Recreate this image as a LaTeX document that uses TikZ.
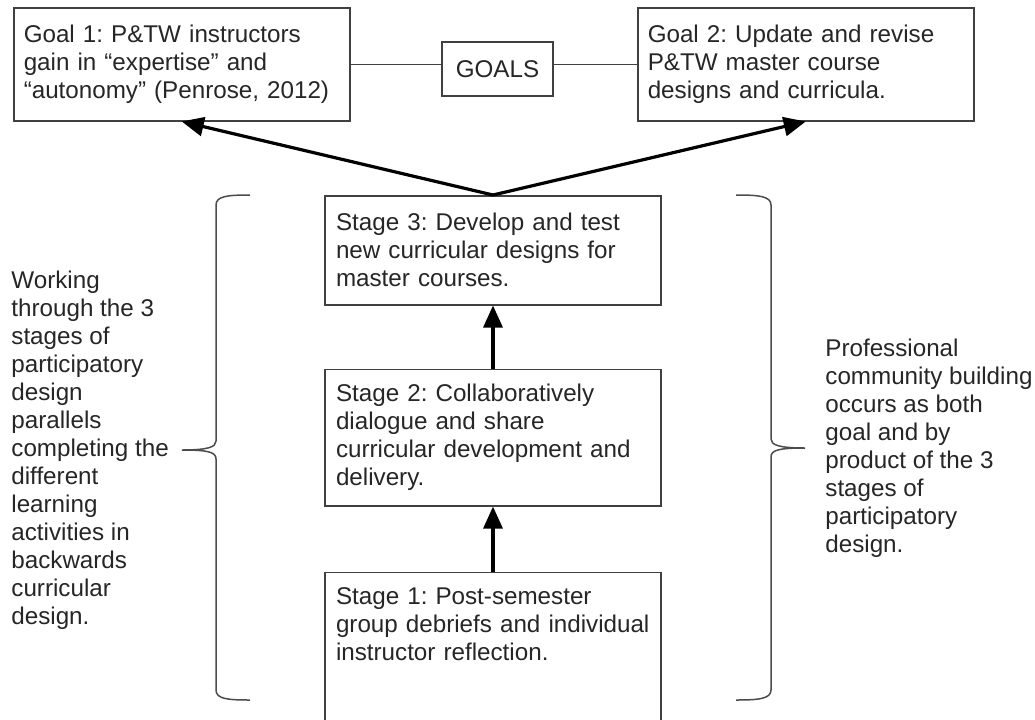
\documentclass[tikz,border=0pt]{standalone}
\usepackage{fontspec}
\setmainfont{Liberation Sans}
\usetikzlibrary{arrows.meta, positioning}
\frenchspacing

\begin{document}
\begin{tikzpicture}[
  x=0.5pt, y=-0.5pt,
  font=\fontsize{12.1}{14}\selectfont,
  goalbox/.style  = {draw=black!75, line width=0.75pt, text=black!85,
                     text width=158pt, inner xsep=5pt, inner ysep=0pt,
                     align=left, minimum height=56.5pt, anchor=north west},
  stagebox/.style = {draw=black!75, line width=0.75pt, text=black!85,
                     text width=157pt, inner xsep=5.5pt, inner ysep=7.5pt,
                     align=left},
  tagbox/.style   = {draw=black!75, line width=0.75pt, text=black!85,
                     minimum width=55.5pt, minimum height=27pt, inner sep=0pt},
  note/.style     = {text=black!85, align=left, anchor=west, inner sep=0pt},
  link/.style     = {draw=black!75, line width=0.75pt},
  curly/.style    = {draw=black!70, line width=0.75pt},
  arr/.style      = {-{Triangle[length=11pt, width=9.5pt]}, line width=1.6pt, black}
]
\useasboundingbox[fill=white] (0,0) rectangle (1035,719);

\node[goalbox] (goal1) at (13,7)
  {Goal 1: P\&TW instructors\\gain in “expertise” and\\“autonomy” (Penrose, 2012)};
\node[goalbox] (goal2) at (637,7)
  {Goal 2: Update and revise\\P\&TW master course\\designs and curricula.};
\node[tagbox] (goals) at (497.5,69) {GOALS};
\draw[link] (goal1.east) -- (goal1.east -| goals.west);
\draw[link] (goals.east |- goal2.west) -- (goal2.west);

\node[stagebox, anchor=north, minimum height=54.5pt] (stage3) at (493,195)
  {Stage 3: Develop and test\\new curricular designs for\\master courses.};
\node[stagebox, minimum height=68pt, below=31.5pt of stage3] (stage2)
  {Stage 2: Collaboratively\\dialogue and share\\curricular development and\\delivery.};
\node[stagebox, below=32.5pt of stage2] (stage1)
  {Stage 1: Post-semester\\group debriefs and individual\\instructor reflection.\rule[-50pt]{0pt}{0pt}};

\draw[arr] (stage3.north) -- (goal1.south);
\draw[arr] (stage3.north) -- (goal2.south);
\draw[arr] (stage2.north) -- (stage3.south);
\draw[arr] (stage1.north) -- (stage2.south);

\draw[curly] (250,195) .. controls (228,195) and (216,196) .. (216,205)
  -- (216,441) .. controls (216,447) and (208,450) .. (182,450)
  .. controls (208,450) and (216,452) .. (216,459)
  -- (216,690) .. controls (216,699) and (228,700) .. (250,700);
\draw[curly] (736,195) .. controls (758,195) and (771,196) .. (771,205)
  -- (771,439) .. controls (771,445) and (779,448) .. (805,448)
  .. controls (779,448) and (771,450) .. (771,457)
  -- (771,690) .. controls (771,699) and (758,700) .. (736,700);

\node[note] (leftnote) at (11,450)
  {Working\\through the 3\\stages of\\participatory\\design\\parallels\\completing the\\different\\learning\\activities in\\backwards\\curricular\\design.};
\node[note] (rightnote) at (825,448)
  {Professional\\community building\\occurs as both\\goal and by\\product of the 3\\stages of\\participatory\\design.};
\end{tikzpicture}
\end{document}
